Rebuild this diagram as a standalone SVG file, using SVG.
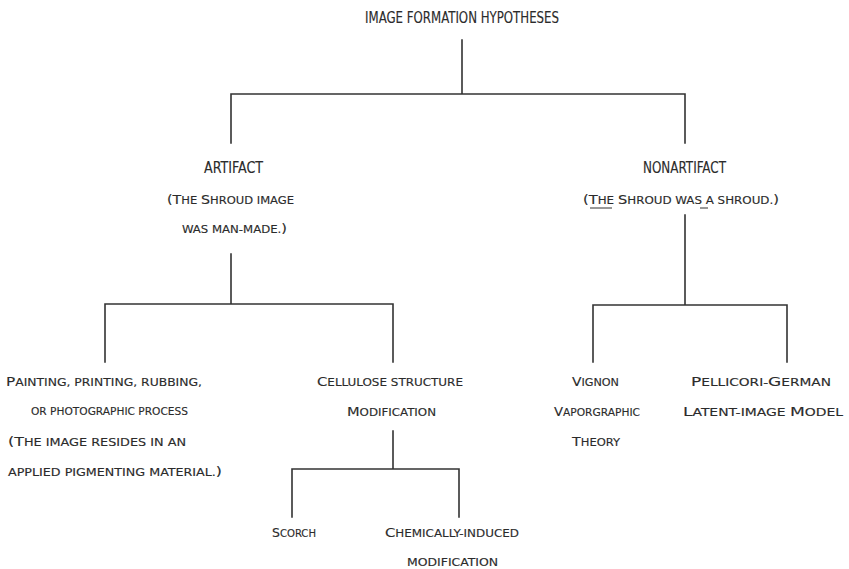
<svg xmlns="http://www.w3.org/2000/svg" width="849" height="569" viewBox="0 0 849 569">
<style>
text{font-family:"Liberation Sans Narrow","DejaVu Sans Condensed","Liberation Sans",sans-serif;fill:#2b2b2b;stroke:#2b2b2b;stroke-width:0.12;}
.c{font-size:15px;}
.s{font-size:10.5px;}
.b{font-size:13px;}
.ln{stroke:#333;stroke-width:1.6;fill:none;stroke-linecap:square;}
.ul{stroke:#333;stroke-width:1;}
</style>
<rect width="849" height="569" fill="#ffffff"/>
<g id="connectors">
<path class="ln" d="M462 40V94M231 143V94H685V143"/>
<path class="ln" d="M231 254V304M105 362V304H393V362"/>
<path class="ln" d="M685 215V305M593 362V305H787V362"/>
<path class="ln" d="M393 431V469M292 517V469H459V517"/>
</g>
<g id="root"><text class="c" x="365" y="23" textLength="194" lengthAdjust="spacingAndGlyphs">IMAGE FORMATION HYPOTHESES</text></g>
<g id="artifact">
<text class="c" x="204" y="173" textLength="59" lengthAdjust="spacingAndGlyphs">ARTIFACT</text>
<text class="s" x="167" y="204" textLength="127" lengthAdjust="spacingAndGlyphs"><tspan class="b">(T</tspan>HE <tspan class="b">S</tspan>HROUD IMAGE</text>
<text class="s" x="182" y="233" textLength="105" lengthAdjust="spacingAndGlyphs">WAS MAN-MADE.<tspan class="b">)</tspan></text>
</g>
<g id="nonartifact">
<text class="c" x="643" y="173" textLength="83" lengthAdjust="spacingAndGlyphs">NONARTIFACT</text>
<text class="s" x="583" y="204" textLength="196" lengthAdjust="spacingAndGlyphs"><tspan class="b">(T</tspan>HE <tspan class="b">S</tspan>HROUD WAS A SHROUD.<tspan class="b">)</tspan></text>
<line class="ul" x1="590" y1="208" x2="612" y2="208"/>
<line class="ul" x1="700" y1="208" x2="708" y2="208"/>
</g>
<g id="painting">
<text class="s" x="6" y="386" textLength="196" lengthAdjust="spacingAndGlyphs"><tspan class="b">P</tspan>AINTING, PRINTING, RUBBING,</text>
<text class="s" x="31" y="415" textLength="157" lengthAdjust="spacingAndGlyphs">OR PHOTOGRAPHIC PROCESS</text>
<text class="s" x="8" y="446" textLength="178" lengthAdjust="spacingAndGlyphs"><tspan class="b">(T</tspan>HE IMAGE RESIDES IN AN</text>
<text class="s" x="8" y="476" textLength="214" lengthAdjust="spacingAndGlyphs">APPLIED PIGMENTING MATERIAL.<tspan class="b">)</tspan></text>
</g>
<g id="cellulose">
<text class="s" x="317" y="386" textLength="146" lengthAdjust="spacingAndGlyphs"><tspan class="b">C</tspan>ELLULOSE STRUCTURE</text>
<text class="s" x="347" y="416" textLength="89" lengthAdjust="spacingAndGlyphs"><tspan class="b">M</tspan>ODIFICATION</text>
</g>
<g id="vignon">
<text class="s" x="572" y="386" textLength="47" lengthAdjust="spacingAndGlyphs"><tspan class="b">V</tspan>IGNON</text>
<text class="s" x="554" y="416" textLength="86" lengthAdjust="spacingAndGlyphs"><tspan class="b">V</tspan>APORGRAPHIC</text>
<text class="s" x="572" y="446" textLength="48" lengthAdjust="spacingAndGlyphs"><tspan class="b">T</tspan>HEORY</text>
</g>
<g id="pellicori">
<text class="s" x="691" y="386" textLength="140" lengthAdjust="spacingAndGlyphs"><tspan class="b">P</tspan>ELLICORI-<tspan class="b">G</tspan>ERMAN</text>
<text class="s" x="683" y="416" textLength="160" lengthAdjust="spacingAndGlyphs"><tspan class="b">L</tspan>ATENT-IMAGE <tspan class="b">M</tspan>ODEL</text>
</g>
<g id="scorch">
<text class="s" x="272" y="537" textLength="44" lengthAdjust="spacingAndGlyphs"><tspan class="b">S</tspan>CORCH</text>
</g>
<g id="chemical">
<text class="s" x="385" y="537" textLength="134" lengthAdjust="spacingAndGlyphs"><tspan class="b">C</tspan>HEMICALLY-INDUCED</text>
<text class="s" x="407" y="566" textLength="91" lengthAdjust="spacingAndGlyphs">MODIFICATION</text>
</g>
</svg>
